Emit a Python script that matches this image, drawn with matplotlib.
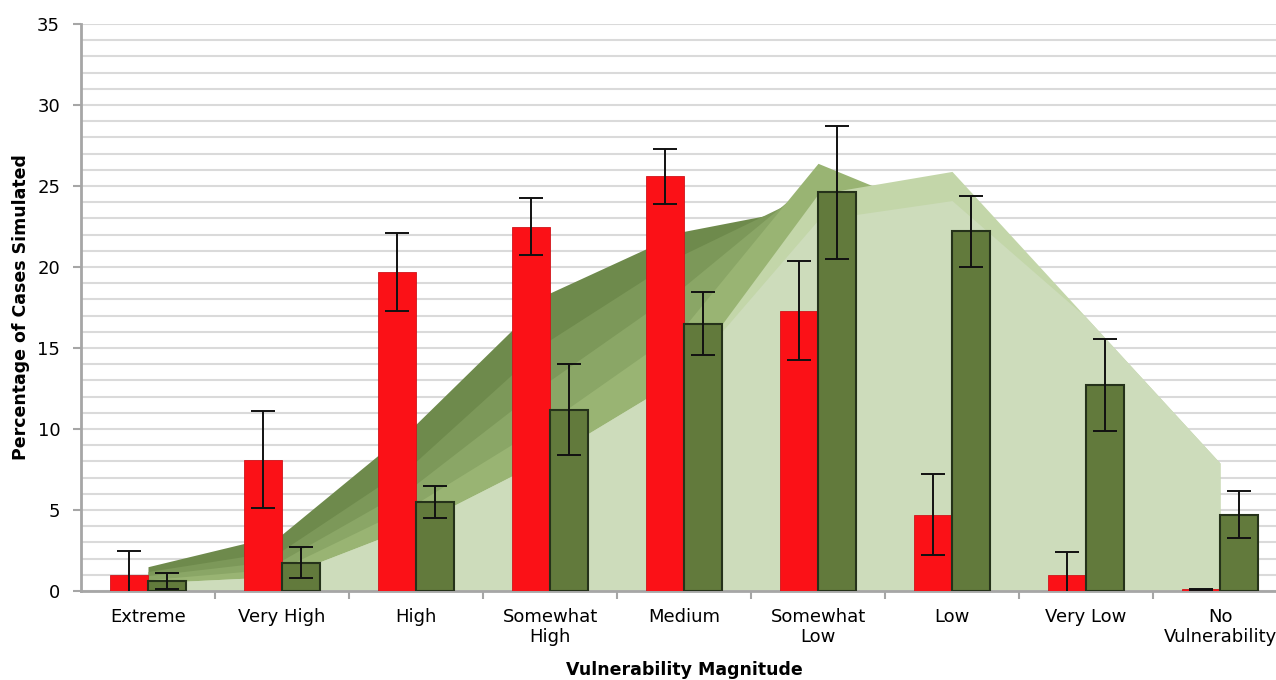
import numpy as np
import matplotlib.pyplot as plt
from matplotlib.ticker import MultipleLocator

# categories on the x axis
categories = ['Extreme', 'Very High', 'High', 'Somewhat\nHigh', 'Medium',
              'Somewhat\nLow', 'Low', 'Very Low', 'No\nVulnerability']

# red bars with their error
red_values = [1.0, 8.1, 19.7, 22.5, 25.6, 17.3, 4.7, 1.0, 0.1]
red_errors = [1.45, 3.0, 2.4, 1.75, 1.7, 3.05, 2.5, 1.4, 0.03]

# dark green bars with their error
green_values = [0.62, 1.75, 5.5, 11.2, 16.5, 24.6, 22.2, 12.7, 4.7]
green_errors = [0.5, 0.95, 1.0, 2.8, 1.95, 4.1, 2.2, 2.85, 1.45]

# background areas, back to front
layer_1 = [1.5, 3.5, 10.3, 18.4, 22.2, 23.8, 18.0, 8.0, 2.0]
layer_2 = [1.2, 2.5, 8.0, 15.5, 20.8, 24.8, 19.0, 9.0, 2.5]
layer_3 = [0.95, 1.9, 6.6, 13.0, 18.8, 25.6, 21.0, 10.5, 3.0]
layer_4 = [0.7, 1.4, 5.4, 10.5, 16.3, 26.4, 23.0, 12.0, 4.0]
layer_5 = [0.5, 0.9, 4.1, 8.3, 13.3, 24.5, 25.9, 16.9, 7.9]
layer_6 = [0.5, 0.9, 4.1, 8.3, 13.3, 22.9, 24.1, 16.9, 7.9]

layers = [layer_1, layer_2, layer_3, layer_4, layer_5, layer_6]
layer_colors = ['#6e8a4c', '#7c9859', '#8aa666', '#99b473', '#c3d6a9', '#cddcbb']

fig = plt.figure(figsize=(12.76, 6.8), dpi=100)
ax = fig.add_axes([81 / 1276, 89 / 680, 1206 / 1276, 567 / 680])

x = np.arange(len(categories))
width = 0.284

for values, color in zip(layers, layer_colors):
    ax.fill_between(x, 0, values, color=color, lw=0, zorder=1)

ax.bar(x - width / 2, red_values, width, color='#fb1117', edgecolor='#d0141a',
       linewidth=0.6, zorder=3)
ax.bar(x + width / 2, green_values, width, color='#627a3c', edgecolor='#25321a',
       linewidth=1.5, zorder=3)

ax.errorbar(x - width / 2, red_values, yerr=red_errors, fmt='none', ecolor='#111111',
            elinewidth=1.4, capsize=8.5, capthick=1.4, zorder=4)
ax.errorbar(x + width / 2, green_values, yerr=green_errors, fmt='none', ecolor='#111111',
            elinewidth=1.4, capsize=8.5, capthick=1.4, zorder=4)

ax.set_xlim(-0.5, len(categories) - 0.5)
ax.set_ylim(0, 35)

ax.yaxis.set_major_locator(MultipleLocator(5))
ax.yaxis.set_minor_locator(MultipleLocator(1))
ax.grid(True, which='both', axis='y', color='#dadada', linewidth=1.5, zorder=0)
ax.set_axisbelow(True)

ax.set_xticks(x)
ax.set_xticklabels(categories, fontsize=13, linespacing=1.15)
ax.set_xticks(x[:-1] + 0.5, minor=True)
ax.tick_params(axis='x', which='major', length=0, pad=12)
ax.tick_params(axis='x', which='minor', length=6, width=1.5, color='#a6a6a6')
ax.tick_params(axis='y', which='major', length=6, width=1.5, color='#a6a6a6',
               labelsize=13, pad=9)
ax.tick_params(axis='y', which='minor', length=0)

for side in ['top', 'right']:
    ax.spines[side].set_visible(False)
for side in ['left', 'bottom']:
    ax.spines[side].set_color('#a6a6a6')
    ax.spines[side].set_linewidth(2)

ax.set_xlabel('Vulnerability Magnitude', fontsize=12.5, fontweight='bold')
ax.xaxis.set_label_coords(0.5, -0.123)
ax.set_ylabel('Percentage of Cases Simulated', fontsize=12.5, fontweight='bold')
ax.yaxis.set_label_coords(-0.042, 0.5)

fig.savefig('out.png', dpi=100)
plt.close(fig)
